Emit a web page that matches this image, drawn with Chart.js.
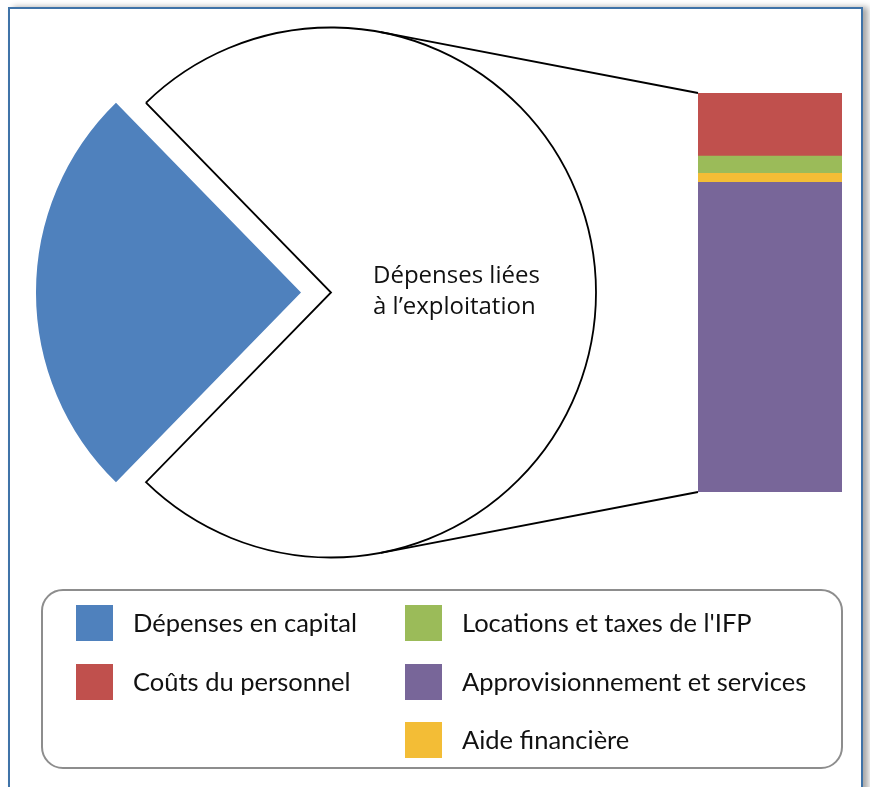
<!DOCTYPE html>
<html lang="fr">
<head>
<meta charset="utf-8">
<script src="https://cdn.jsdelivr.net/npm/chart.js@4.4.1/dist/chart.umd.min.js"></script>
<style>
    body { margin: 0; width: 870px; height: 787px; overflow: hidden; background: #fff; position: relative; }
    #frame { position: absolute; left: 8px; top: 7px; width: 851px; height: 820px; border: 2px solid #3f73a8; box-shadow: 5px 0 6px rgba(0,0,0,0.35); background: #fff; }
    canvas { position: absolute; left: 0; top: 0; }
    #legend { position: absolute; left: 41px; top: 589px; width: 798px; height: 176px; border: 2px solid #8d8d8d; border-radius: 22px; font-family: Lato, sans-serif; font-size: 25.5px; color: #111; }
    .item { position: absolute; height: 36px; line-height: 36px; white-space: nowrap; }
    .swatch { position: absolute; left: 0; top: 0; width: 37px; height: 36px; }
    .item span { position: absolute; left: 57px; top: -1px; }
</style>
</head>
<body>
<div id="frame"></div>
<canvas id="pieChart" width="870" height="787"></canvas>
<canvas id="barChart" width="870" height="787"></canvas>
<div id="legend"></div>

<script>
// Valeurs (en % du total des dépenses)
const capitalLabel = 'Dépenses en capital';
const capitalValue = 25.4;
const capitalColor = '#4f81bd';

const operatingLabel = ['Dépenses liées', 'à l’exploitation'];

// Détail des dépenses d'exploitation, de haut en bas dans la barre
const operatingLabels = ['Coûts du personnel', "Locations et taxes de l'IFP", 'Aide financière', 'Approvisionnement et services'];
const operatingValues = [11.8, 3.2, 1.7, 57.9];
const operatingColors = ['#c0504d', '#9bbb59', '#f3bd36', '#786699'];

// Ordre de la légende (colonne par colonne)
const legendLabels = ['Dépenses en capital', 'Coûts du personnel', "Locations et taxes de l'IFP", 'Approvisionnement et services', 'Aide financière'];
const legendColors = [capitalColor, '#c0504d', '#9bbb59', '#786699', '#f3bd36'];

const operatingTotal = operatingValues.reduce((a, b) => a + b, 0);
const grandTotal = capitalValue + operatingTotal;

// Texte dans la part blanche
const pieLabelPlugin = {
    id: 'pieLabel',
    afterDraw(chart) {
        const arc = chart.getDatasetMeta(0).data[1];
        const ctx = chart.ctx;
        ctx.save();
        ctx.fillStyle = '#111';
        ctx.font = '24px "Open Sans", sans-serif';
        ctx.textAlign = 'left';
        ctx.textBaseline = 'middle';
        ctx.fillText(operatingLabel[0], arc.x + 42, arc.y - 16);
        ctx.fillText(operatingLabel[1], arc.x + 42, arc.y + 15);
        ctx.restore();
    }
};

const pieChart = new Chart(document.getElementById('pieChart'), {
    type: 'pie',
    data: {
        labels: [capitalLabel, operatingLabel.join(' ')],
        datasets: [{
            data: [capitalValue, operatingTotal],
            backgroundColor: [capitalColor, '#ffffff'],
            borderColor: ['rgba(0,0,0,0)', '#000000'],
            borderWidth: [0, 1.8],
            borderJoinStyle: 'miter',
            offset: [120, 0]
        }]
    },
    options: {
        responsive: false,
        animation: false,
        radius: 265,
        rotation: 270 - capitalValue / grandTotal * 180,
        layout: { padding: { left: 0, top: 0, right: 208, bottom: 202 } },
        plugins: { legend: { display: false }, tooltip: { enabled: false } }
    },
    plugins: [pieLabelPlugin]
});

// Lignes tangentes entre le cercle et la barre
function tangentPoint(cx, cy, r, px, py, pickTop) {
    const dx = px - cx, dy = py - cy;
    const d = Math.sqrt(dx * dx + dy * dy);
    const phi = Math.atan2(dy, dx);
    const alpha = Math.acos(r / d);
    const a1 = phi - alpha, a2 = phi + alpha;
    const p1 = [cx + r * Math.cos(a1), cy + r * Math.sin(a1)];
    const p2 = [cx + r * Math.cos(a2), cy + r * Math.sin(a2)];
    if (pickTop) return p1[1] < p2[1] ? p1 : p2;
    return p1[1] > p2[1] ? p1 : p2;
}

const connectorPlugin = {
    id: 'connectors',
    afterDraw(chart) {
        const arc = pieChart.getDatasetMeta(0).data[1];
        const n = chart.data.datasets.length;
        const topBar = chart.getDatasetMeta(n - 1).data[0];
        const bottomBar = chart.getDatasetMeta(0).data[0];
        const left = topBar.x - topBar.width / 2;
        const ctx = chart.ctx;
        const t = tangentPoint(arc.x, arc.y, arc.outerRadius, left, topBar.y, true);
        const b = tangentPoint(arc.x, arc.y, arc.outerRadius, left, bottomBar.base, false);
        ctx.save();
        ctx.strokeStyle = '#000';
        ctx.lineWidth = 1.8;
        ctx.beginPath();
        ctx.moveTo(t[0], t[1]);
        ctx.lineTo(left, topBar.y);
        ctx.moveTo(b[0], b[1]);
        ctx.lineTo(left, bottomBar.base);
        ctx.stroke();
        ctx.restore();
    }
};

// Barre empilée : on empile du bas vers le haut
const stackOrder = operatingLabels.map((_, i) => i).reverse();

new Chart(document.getElementById('barChart'), {
    type: 'bar',
    data: {
        labels: [''],
        datasets: stackOrder.map(i => ({
            label: operatingLabels[i],
            data: [operatingValues[i]],
            backgroundColor: operatingColors[i],
            borderWidth: 0,
            categoryPercentage: 1,
            barPercentage: 1
        }))
    },
    options: {
        responsive: false,
        animation: false,
        layout: { padding: { left: 698, top: 93, right: 28, bottom: 295 } },
        scales: {
            x: { stacked: true, display: false },
            y: { stacked: true, display: false, min: 0, max: operatingTotal }
        },
        plugins: { legend: { display: false }, tooltip: { enabled: false } }
    },
    plugins: [connectorPlugin]
});

// Légende en deux colonnes
const legend = document.getElementById('legend');
legendLabels.forEach((label, i) => {
    const col = i < 2 ? 0 : 1;
    const row = i < 2 ? i : i - 2;
    const item = document.createElement('div');
    item.className = 'item';
    item.style.left = (col === 0 ? 33 : 362) + 'px';
    item.style.top = (14 + row * 58.5) + 'px';
    item.innerHTML = '<div class="swatch" style="background:' + legendColors[i] + '"></div><span>' + label + '</span>';
    legend.appendChild(item);
});
</script>
</body>
</html>
